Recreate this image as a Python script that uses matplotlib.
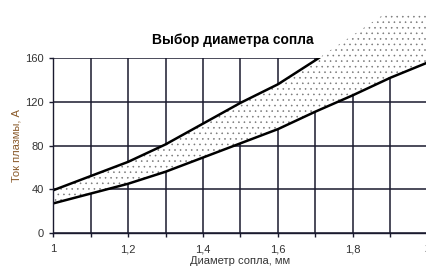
import numpy as np
import matplotlib
matplotlib.use("Agg")
import matplotlib.pyplot as plt
from matplotlib.transforms import Bbox, TransformedBbox

diameter = [1.0, 1.1, 1.2, 1.3, 1.4, 1.5, 1.6, 1.7, 1.8, 1.9, 2.0]
current_max = [39, 52, 65, 81, 100, 119, 136, 158, 181, 204, 226]
current_min = [27, 36, 45, 56, 69, 82, 95, 111, 126, 142, 156]

title = "Выбор диаметра сопла"
xlabel = "Диаметр сопла, мм"
ylabel = "Ток плазмы, А"
xticks = [1.0, 1.2, 1.4, 1.6, 1.8, 2.0]
xticklabels = ["1", "1,2", "1,4", "1,6", "1,8", "2"]
yticks = [0, 40, 80, 120, 160]

plt.rcParams['font.family'] = ['Liberation Sans', 'DejaVu Sans']
plt.rcParams['hatch.color'] = '#777777'
plt.rcParams['hatch.linewidth'] = 0.4

fig = plt.figure(figsize=(4.27, 2.67), dpi=100)
ax = fig.add_axes([53/427, 1-233/267, (428-53)/427, (233-58)/267])

fb = ax.fill_between(diameter, current_min, current_max, facecolor='white',
                     edgecolor='none', hatch='...', zorder=2)
fb.set_clip_box(TransformedBbox(Bbox([[0, 0], [1, 1-13/267]]), fig.transFigure))

ax.plot(diameter, current_max, color='black', lw=1.8, zorder=3)
ax.plot(diameter, current_min, color='black', lw=1.8, zorder=3)

ax.set_xlim(1, 2)
ax.set_ylim(0, 160)
ax.set_xticks(xticks)
ax.set_xticklabels(xticklabels, fontsize=8, color='#333333')
ax.set_xticks(np.arange(1.1, 2.0, 0.2), minor=True)
ax.set_yticks(yticks)
ax.set_yticklabels([str(v) for v in yticks], fontsize=8, color='#333333')
ax.grid(True, which='both', color='#1a1a2e', lw=1.1, zorder=1)
ax.set_axisbelow(True)
ax.tick_params(which='both', direction='out', length=3, width=1, color='#1a1a2e')
ax.tick_params(axis='x', pad=5)
for s in ['top', 'right']:
    ax.spines[s].set_visible(False)
for s in ['left', 'bottom']:
    ax.spines[s].set_color('#1a1a2e')
    ax.spines[s].set_linewidth(1.0)
    ax.spines[s].set_zorder(4)

ax.set_xlabel(xlabel, fontsize=8, color='#333333', labelpad=1)
ax.set_ylabel(ylabel, fontsize=8, color='#8a5a2a', labelpad=3)
fig.text(0.545, 1-40/267, title, fontsize=10, fontweight='bold', ha='center', va='center')

fig.savefig("out.png", dpi=100)
